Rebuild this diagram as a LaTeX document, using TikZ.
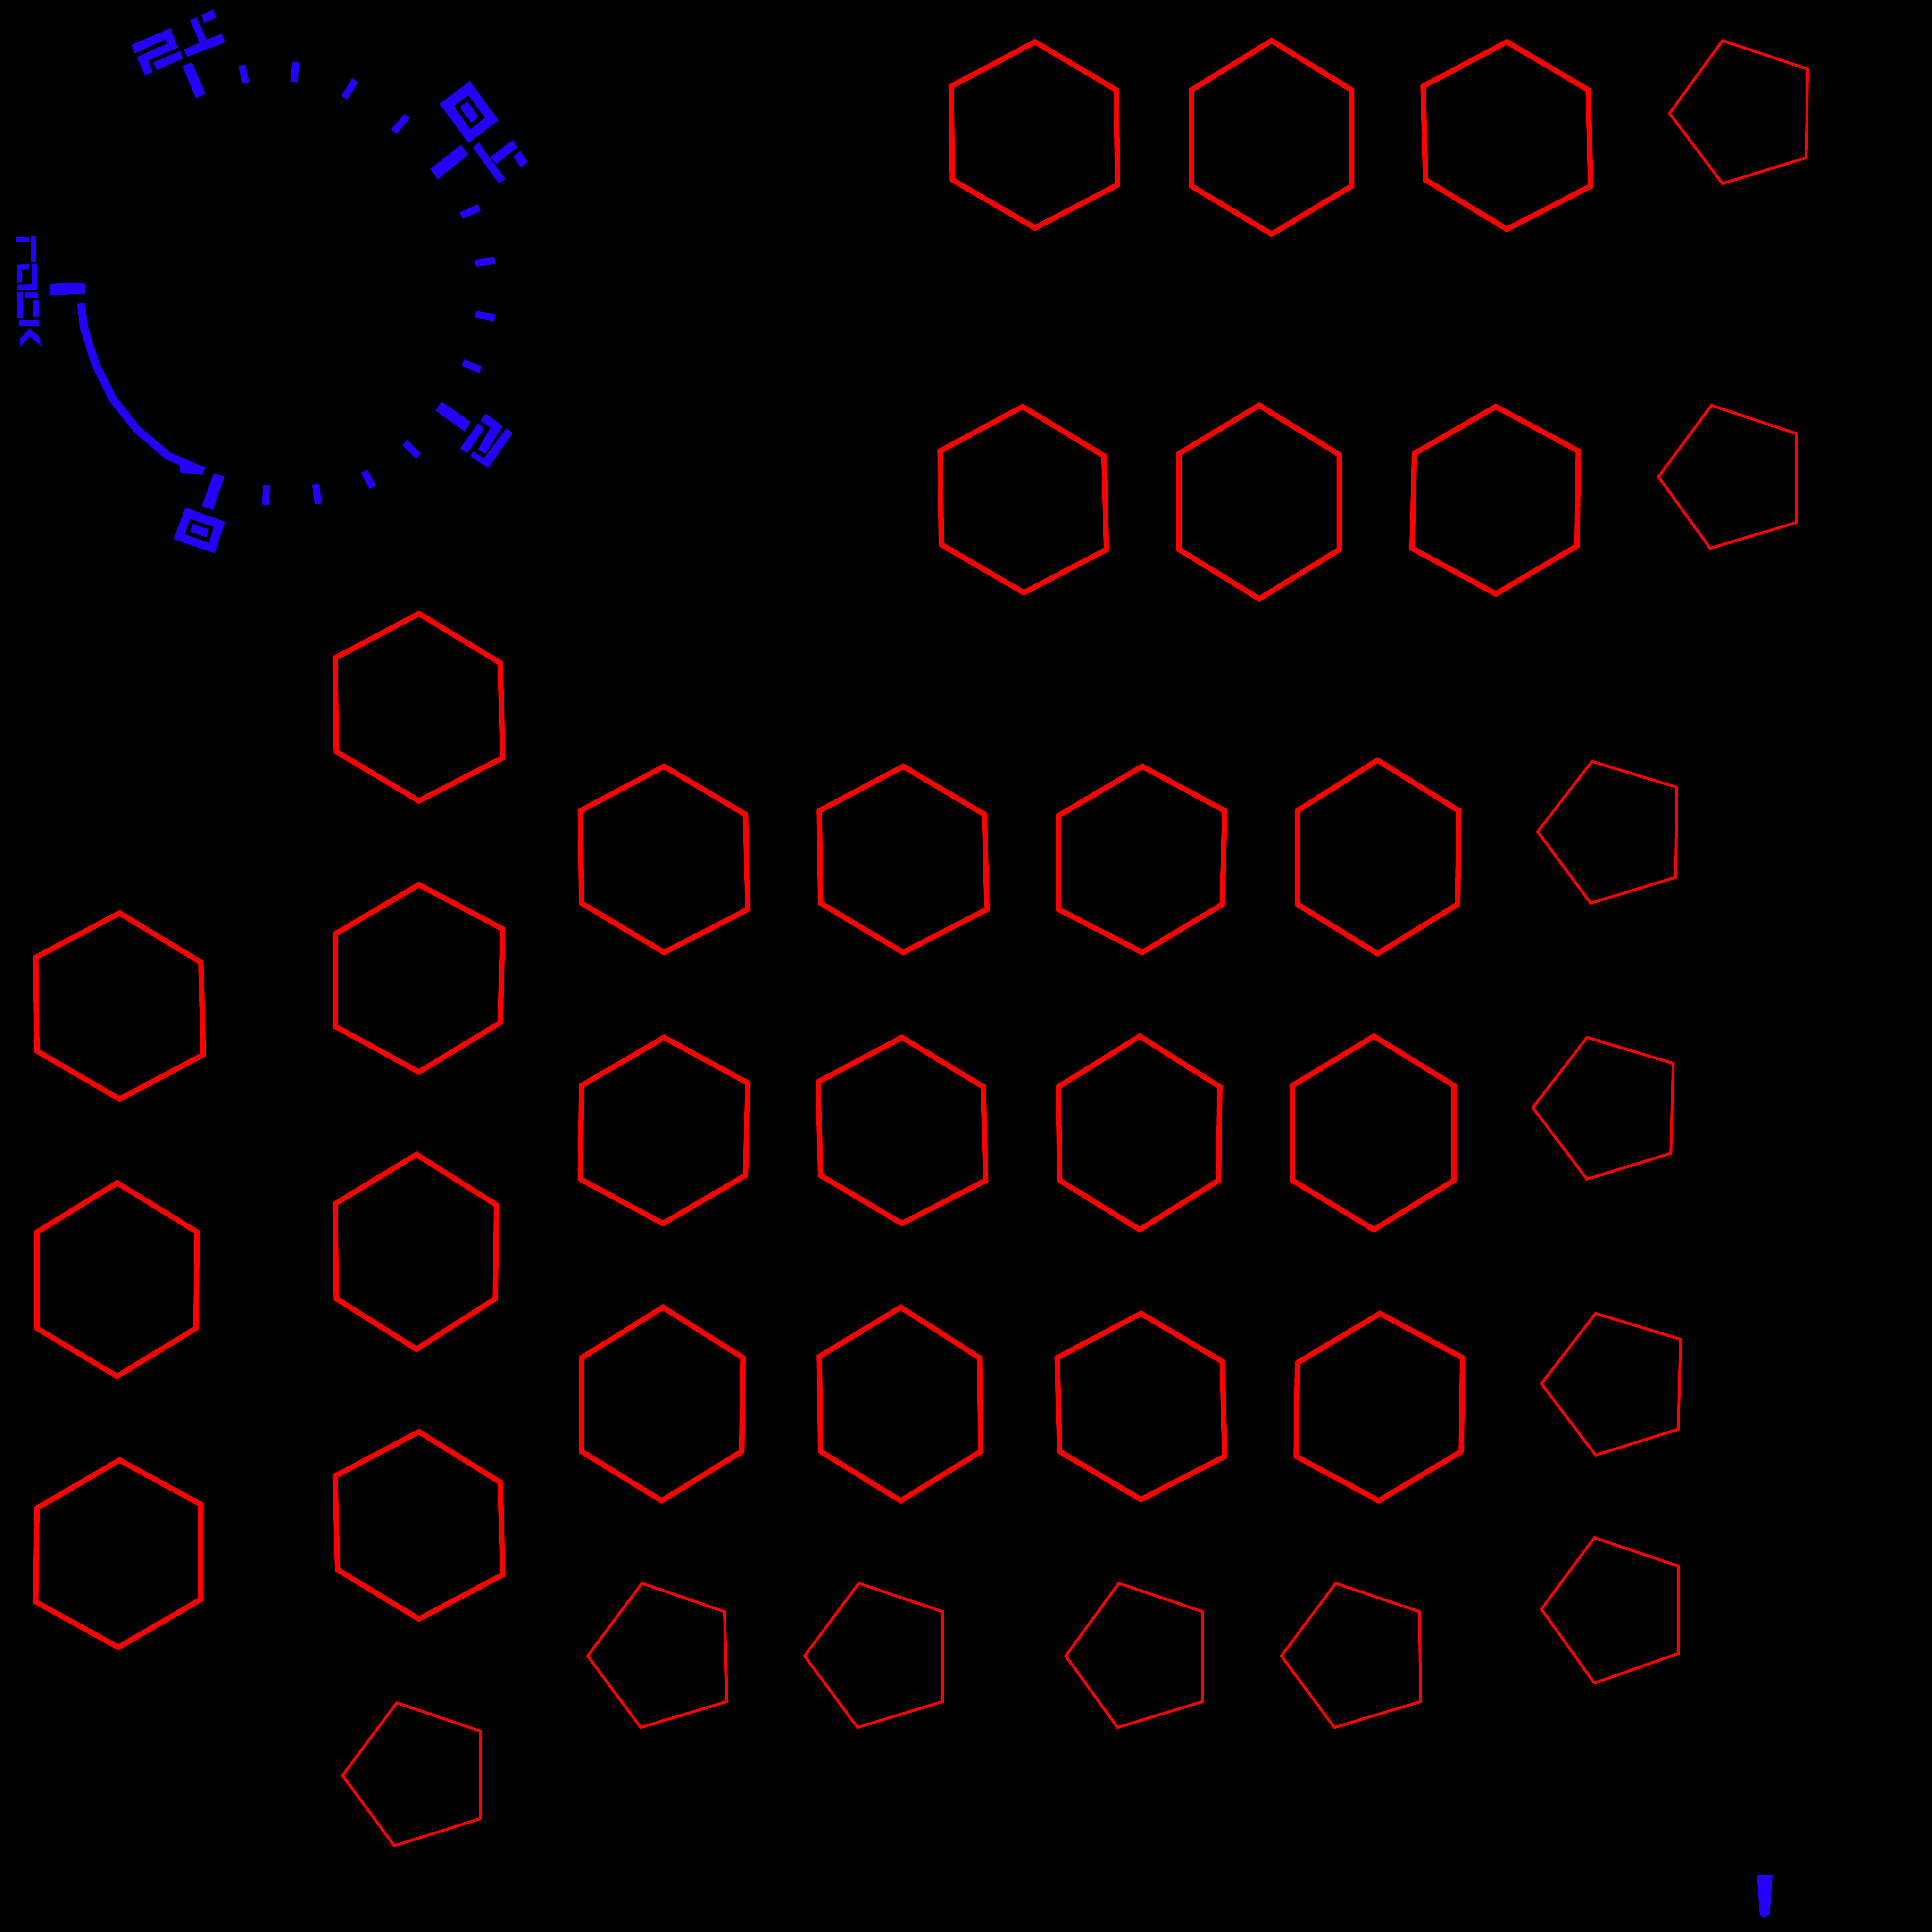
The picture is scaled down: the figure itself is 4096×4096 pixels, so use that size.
\documentclass[tikz,border=0pt]{standalone}
\definecolor{gaugeblue}{RGB}{36,0,255}
\definecolor{shapered}{RGB}{255,0,0}
\begin{document}
\begin{tikzpicture}[x=0.01cm, y=-0.01cm,
    hexa/.style={draw=shapered, line width=0.115cm, line join=miter},
    penta/.style={draw=shapered, line width=0.06cm, line join=miter},
    gtick/.style={draw=gaugeblue, line width=0.15cm},
    glyph/.style={fill=gaugeblue}]

    % Page: 4096 x 4096 px, 1 unit = 1 px, y downwards
    \fill[black] (0,0) rectangle (4096,4096);

    % ---------- red outlines (coordinates on a 1568 grid) ----------
    \begin{scope}[scale=2.6122]
    % top row
    \draw[hexa] (840,34) -- (906,73) -- (907,150) -- (840,185) -- (773,146) -- (772,70) -- cycle;
    \draw[hexa] (1032,33) -- (1097,73) -- (1097,151) -- (1032,190) -- (967,151) -- (967,73) -- cycle;
    \draw[hexa] (1223,34) -- (1289,73) -- (1291,151) -- (1223,186) -- (1157,146) -- (1155,70) -- cycle;
    \draw[penta] (1398,33) -- (1467,56) -- (1466,128) -- (1398,149) -- (1355,92) -- cycle;

    % second row
    \draw[hexa] (830,330) -- (896,370) -- (898,446) -- (831,481) -- (764,442) -- (763,366) -- cycle;
    \draw[hexa] (1022,329) -- (1087,369) -- (1087,446) -- (1022,486) -- (957,446) -- (957,368) -- cycle;
    \draw[hexa] (1214,330) -- (1281,366) -- (1280,443) -- (1214,482) -- (1146,445) -- (1148,368) -- cycle;
    \draw[penta] (1389,329) -- (1458,352) -- (1458,424) -- (1388,445) -- (1346,387) -- cycle;

    % far left column
    \draw[hexa] (97,741) -- (163,781) -- (165,856) -- (97,892) -- (30,853) -- (29,777) -- cycle;
    \draw[hexa] (95,960) -- (160,1000) -- (159,1078) -- (95,1117) -- (30,1078) -- (30,1000) -- cycle;
    \draw[hexa] (97,1185) -- (163,1221) -- (163,1298) -- (96,1337) -- (29,1300) -- (30,1224) -- cycle;

    % second column
    \draw[hexa] (340,498) -- (406,538) -- (408,615) -- (340,650) -- (273,610) -- (272,534) -- cycle;
    \draw[hexa] (340,718) -- (408,754) -- (406,830) -- (340,870) -- (272,833) -- (272,758) -- cycle;
    \draw[hexa] (338,937) -- (403,978) -- (402,1054) -- (338,1095) -- (273,1054) -- (272,977) -- cycle;
    \draw[hexa] (340,1162) -- (406,1203) -- (408,1278) -- (340,1314) -- (274,1274) -- (272,1198) -- cycle;
    \draw[penta] (322,1382) -- (390,1405) -- (390,1476) -- (320,1498) -- (278,1441) -- cycle;

    % grid row A
    \draw[hexa] (539,622) -- (605,661) -- (607,738) -- (539,773) -- (472,733) -- (471,658) -- cycle;
    \draw[hexa] (733,622) -- (799,661) -- (801,738) -- (733,773) -- (666,733) -- (665,658) -- cycle;
    \draw[hexa] (927,622) -- (994,658) -- (992,734) -- (927,773) -- (859,738) -- (859,662) -- cycle;
    \draw[hexa] (1118,617) -- (1184,658) -- (1183,734) -- (1118,774) -- (1053,734) -- (1053,658) -- cycle;
    \draw[penta] (1292,618) -- (1361,639) -- (1360,712) -- (1291,733) -- (1248,675) -- cycle;

    % grid row B
    \draw[hexa] (539,842) -- (607,879) -- (605,954) -- (538,993) -- (471,957) -- (472,881) -- cycle;
    \draw[hexa] (732,842) -- (798,882) -- (800,958) -- (732,993) -- (666,954) -- (664,878) -- cycle;
    \draw[hexa] (925,841) -- (990,882) -- (989,958) -- (925,998) -- (860,958) -- (859,882) -- cycle;
    \draw[hexa] (1115,841) -- (1180,881) -- (1180,958) -- (1115,998) -- (1049,958) -- (1049,881) -- cycle;
    \draw[penta] (1288,842) -- (1358,863) -- (1356,936) -- (1288,957) -- (1244,899) -- cycle;

    % grid row C
    \draw[hexa] (538,1061) -- (603,1102) -- (602,1178) -- (537,1218) -- (472,1178) -- (472,1102) -- cycle;
    \draw[hexa] (731,1061) -- (795,1102) -- (796,1178) -- (731,1218) -- (666,1178) -- (665,1101) -- cycle;
    \draw[hexa] (926,1066) -- (992,1105) -- (994,1182) -- (926,1217) -- (860,1178) -- (858,1102) -- cycle;
    \draw[hexa] (1120,1066) -- (1187,1102) -- (1186,1178) -- (1119,1218) -- (1052,1182) -- (1053,1106) -- cycle;
    \draw[penta] (1295,1066) -- (1364,1087) -- (1362,1160) -- (1295,1181) -- (1251,1123) -- cycle;

    % grid row D, pentagons only
    \draw[penta] (521,1285) -- (588,1308) -- (590,1381) -- (520,1402) -- (477,1344) -- cycle;
    \draw[penta] (697,1285) -- (765,1308) -- (765,1381) -- (696,1402) -- (653,1344) -- cycle;
    \draw[penta] (908,1285) -- (976,1308) -- (976,1381) -- (907,1402) -- (865,1344) -- cycle;
    \draw[penta] (1084,1285) -- (1152,1308) -- (1153,1381) -- (1083,1402) -- (1040,1344) -- cycle;
    \draw[penta] (1294,1248) -- (1362,1271) -- (1362,1342) -- (1294,1366) -- (1251,1306) -- cycle;
    \end{scope}

    % ---------- blue gauge (full 4096 grid) ----------
    % minor ticks
    \foreach \xa/\ya/\xb/\yb in {513/138/521/176, 627/132/623/174, 753/170/730/207,
        863/246/835/279, 1016/440/978/457, 1049/551/1008/559, 1049/674/1008/666,
        1019/784/981/769, 887/967/858/938, 790/1033/772/999, 675/1068/669/1027,
        563/1070/565/1029} {
      \draw[gtick] (\xa,\ya) -- (\xb,\yb);
    }

    % major ticks
    \fill[glyph] (106,602) -- (180,599) -- (181,623) -- (107,626) -- cycle;
    \fill[glyph] (387,140) -- (407,132) -- (436,199) -- (415,208) -- cycle;
    \fill[glyph] (912,358) -- (977,307) -- (993,328) -- (928,380) -- cycle;
    \fill[glyph] (923,870) -- (937,852) -- (998,895) -- (985,915) -- cycle;
    \fill[glyph] (453,1003) -- (476,1011) -- (451,1081) -- (428,1073) -- cycle;

    % value arc with its barbed end
    \draw[gaugeblue, line width=0.17cm] (172,643) -- (178,694) -- (202,771)
      -- (240,847) -- (290,910) -- (357,967) -- (432,999);
    \fill[glyph] (380,986) -- (383,1003) -- (430,1005) -- (433,997) -- cycle;

    % label near the top left major tick
    \fill[glyph] (279,95) -- (361,60) -- (377,101) -- (315,128) -- (323,153) -- (307,159)
      -- (290,121) -- (353,93) -- (352,83) -- (286,113) -- cycle;
    \fill[glyph] (325,132) -- (382,108) -- (388,124) -- (332,149) -- cycle;
    \fill[glyph] (403,43) -- (417,37) -- (438,84) -- (423,90) -- cycle;
    \fill[glyph] (390,105) -- (470,71) -- (477,90) -- (397,120) -- cycle;
    \fill[glyph] (427,32) -- (452,20) -- (458,38) -- (433,48) -- cycle;

    % label near the top right major tick
    \fill[glyph, even odd rule] (932,220) -- (996,172) -- (1057,255) -- (993,303) -- cycle
      (962,225) -- (993,202) -- (1028,250) -- (997,274) -- cycle;
    \fill[glyph] (975,227) -- (991,215) -- (1015,248) -- (999,260) -- cycle;
    \fill[glyph] (1002,312) -- (1015,302) -- (1072,380) -- (1057,388) -- cycle;
    \fill[glyph] (1040,332) -- (1087,297) -- (1097,312) -- (1052,348) -- cycle;
    \fill[glyph] (1088,332) -- (1103,320) -- (1119,343) -- (1104,355) -- cycle;

    % label near the lower right major tick
    \fill[glyph] (1013,898) -- (1027,908) -- (990,961) -- (975,951) -- cycle;
    \fill[glyph] (1019,892) -- (1029,877) -- (1066,903) -- (1029,962) -- (1013,953)
      -- (1040,907) -- cycle;
    \fill[glyph] (1074,908) -- (1087,918) -- (1035,992) -- (997,967) -- (1003,957)
      -- (1025,972) -- cycle;

    % label near the bottom major tick
    \fill[glyph, even odd rule] (393,1076) -- (477,1106) -- (455,1173) -- (368,1143) -- cycle
      (403,1100) -- (453,1117) -- (443,1151) -- (392,1133) -- cycle;
    \fill[glyph] (408,1111) -- (443,1122) -- (437,1139) -- (403,1127) -- cycle;

    % vertical caption at the left edge
    \fill[glyph] (33,502) rectangle (61,513);
    \fill[glyph] (65,501) rectangle (77,555);
    \fill[glyph] (35,561) -- (62,559) -- (62,571) -- (47,572) -- (47,598) -- (36,599) -- cycle;
    \fill[glyph] (67,559) -- (78,559) -- (79,614) -- (37,615) -- (36,604) -- (67,603) -- cycle;
    \fill[glyph] (37,620) rectangle (49,675);
    \fill[glyph] (53,619) rectangle (80,631);
    \fill[glyph] (70,635) rectangle (83,673);
    \fill[glyph] (40,678) rectangle (83,692);
    \fill[glyph] (63,696) -- (85,716) -- (86,733) -- (63,713) -- (43,735) -- (42,718) -- cycle;

    % small wedge at the bottom right
    \fill[glyph] (3725,3976) -- (3758,3976) -- (3752,4057) -- (3741,4067) -- (3731,4060) -- cycle;

\end{tikzpicture}
\end{document}
